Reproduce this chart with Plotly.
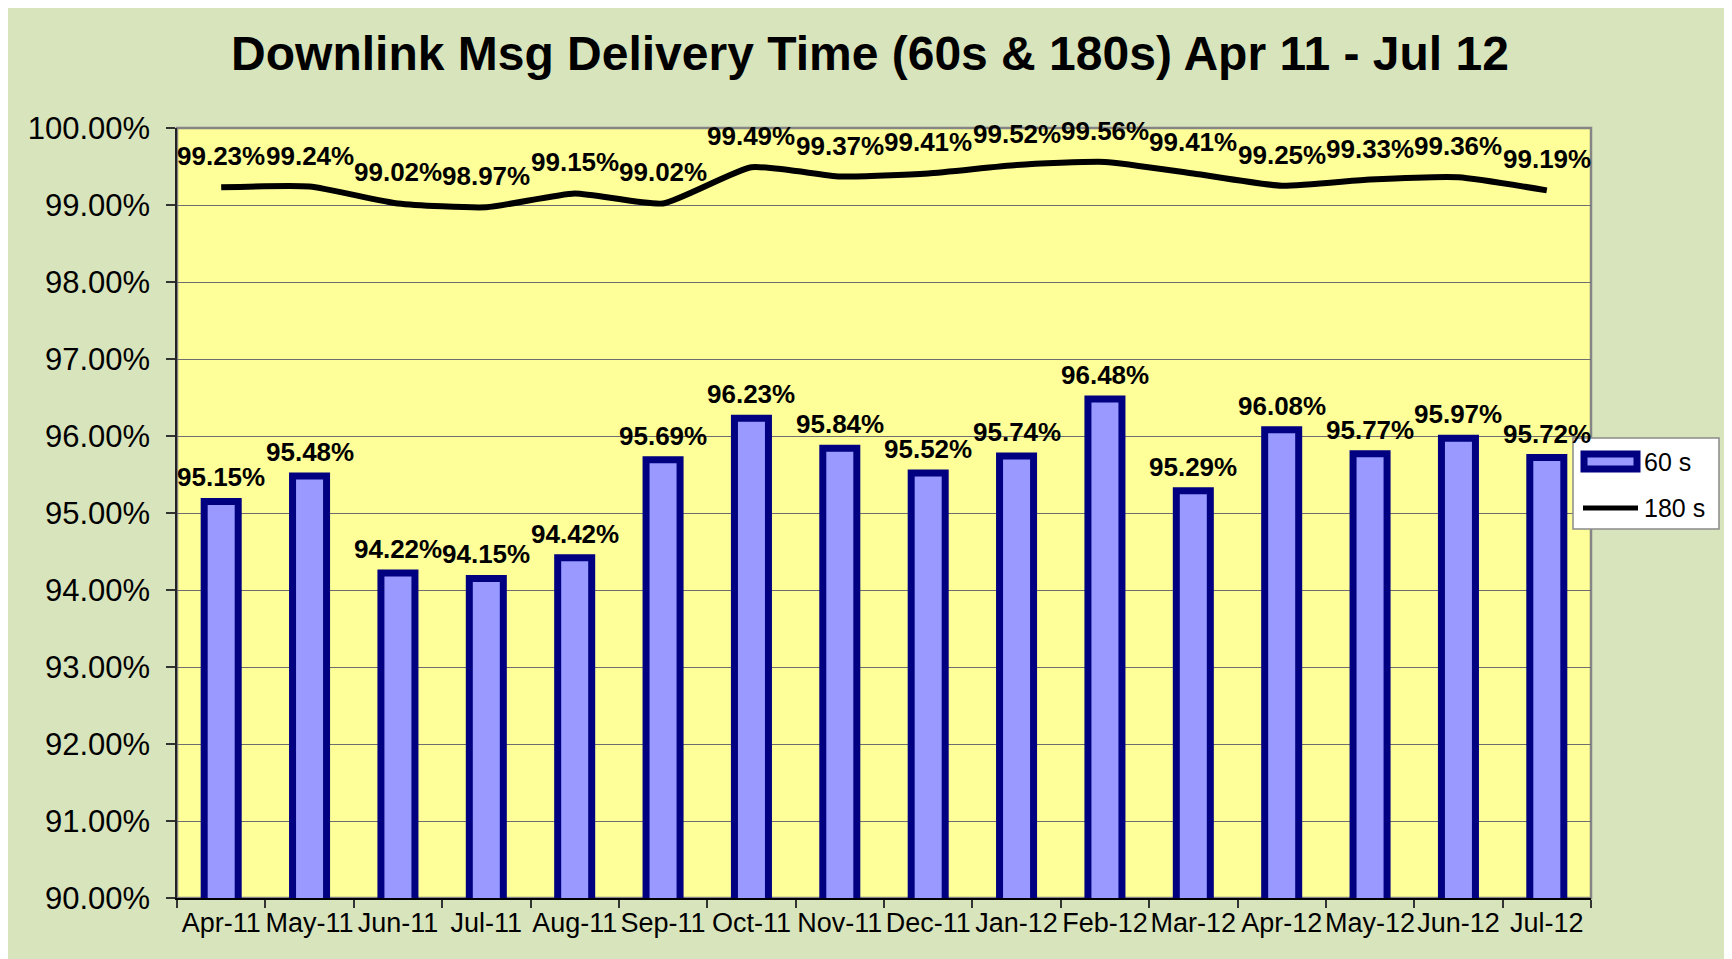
import plotly.graph_objects as go

months = ["Apr-11", "May-11", "Jun-11", "Jul-11", "Aug-11", "Sep-11", "Oct-11", "Nov-11",
          "Dec-11", "Jan-12", "Feb-12", "Mar-12", "Apr-12", "May-12", "Jun-12", "Jul-12"]
s60 = [95.15, 95.48, 94.22, 94.15, 94.42, 95.69, 96.23, 95.84,
       95.52, 95.74, 96.48, 95.29, 96.08, 95.77, 95.97, 95.72]
s180 = [99.23, 99.24, 99.02, 98.97, 99.15, 99.02, 99.49, 99.37,
        99.41, 99.52, 99.56, 99.41, 99.25, 99.33, 99.36, 99.19]
y_ticks = [90, 91, 92, 93, 94, 95, 96, 97, 98, 99, 100]
y_ticktext = [f"{v:.2f}%" for v in y_ticks]
series_names = ["60 s", "180 s"]

FONT = "Arial, Liberation Sans, sans-serif"
# page body has an 8px margin; size the figure so it fills the rest of the window
W, H = 1724, 951
ML, MR, MT, MB = 169, 141, 120, 61
PW, PH = W - ML - MR, H - MT - MB

BAR_FILL, BAR_LINE = "#9999FF", "#000080"

fig = go.Figure()
fig.add_trace(go.Bar(
    x=months, y=s60, name=series_names[0], showlegend=False,
    marker=dict(color=BAR_FILL, line=dict(color=BAR_LINE, width=7)),
))
fig.add_trace(go.Scatter(
    x=months, y=s180, name=series_names[1], mode="lines", showlegend=False,
    line=dict(color="black", width=6, shape="spline", smoothing=0.5),
))

LBL = dict(family=FONT, size=26, color="black", weight="bold")
annotations = []
for m, v in zip(months, s60):
    annotations.append(dict(x=m, y=v, text=f"{v:.2f}%", showarrow=False,
                            xanchor="center", yanchor="bottom", yshift=7, font=LBL))
for m, v in zip(months, s180):
    annotations.append(dict(x=m, y=v, text=f"{v:.2f}%", showarrow=False,
                            xanchor="center", yanchor="bottom", yshift=14, font=LBL))


def px_x(p):
    return (p - ML) / PW


def px_y(p):
    return (H - MB - p) / PH


# custom legend (box, bar swatch, line swatch, labels)
LEG = dict(x0=1565, x1=1711, y0=430, y1=521)
shapes = [
    dict(type="rect", xref="paper", yref="paper", x0=0, x1=1, y0=0, y1=1,
         line=dict(color="#858585", width=2.5), fillcolor="rgba(0,0,0,0)", layer="below"),
    dict(type="rect", xref="paper", yref="paper",
         x0=px_x(LEG["x0"]), x1=px_x(LEG["x1"]), y0=px_y(LEG["y1"]), y1=px_y(LEG["y0"]),
         line=dict(color="#8a8a8a", width=1.5), fillcolor="white", layer="above"),
    dict(type="rect", xref="paper", yref="paper",
         x0=px_x(1576), x1=px_x(1629), y0=px_y(461), y1=px_y(446),
         line=dict(color=BAR_LINE, width=7), fillcolor=BAR_FILL, layer="above"),
    dict(type="line", xref="paper", yref="paper",
         x0=px_x(1575), x1=px_x(1630), y0=px_y(500), y1=px_y(500),
         line=dict(color="black", width=5), layer="above"),
]
for name, ypx in zip(series_names, [454, 500]):
    annotations.append(dict(xref="paper", yref="paper", x=px_x(1634), y=px_y(ypx),
                            text=name, showarrow=False, xanchor="left", yanchor="middle",
                            font=dict(family=FONT, size=25, color="black")))

fig.update_layout(
    width=W, height=H, autosize=False,
    margin=dict(l=ML, r=MR, t=MT, b=MB, pad=0, autoexpand=False),
    paper_bgcolor="#D8E4BC",
    plot_bgcolor="#FFFF99",
    bargap=0.615,
    title=dict(text="Downlink Msg Delivery Time (60s & 180s) Apr 11 - Jul 12",
               x=0.5, xanchor="center", y=1 - 45 / H, yanchor="middle",
               font=dict(family=FONT, size=48, color="black", weight="bold")),
    font=dict(family=FONT, color="black"),
    showlegend=False,
    xaxis=dict(
        type="category", showgrid=False, showline=True, linecolor="black", linewidth=2,
        ticks="outside", tickson="boundaries", ticklen=8, tickcolor="#333333", tickwidth=1.5,
        tickfont=dict(family=FONT, size=27, color="black"), range=[-0.5, 15.5],
        tickangle=0, automargin=False,
    ),
    yaxis=dict(
        range=[90, 100], tickmode="array", tickvals=y_ticks, ticktext=y_ticktext,
        showgrid=True, gridcolor="#6e6e6e", gridwidth=1,
        showline=True, linecolor="#222222", linewidth=1.5,
        ticks="outside", ticklen=9, tickcolor="#333333", tickwidth=1.5,
        tickfont=dict(family=FONT, size=31, color="black"), ticklabelstandoff=10,
        zeroline=False, automargin=False,
    ),
    annotations=annotations,
    shapes=shapes,
)

fig.write_html("out.html")
